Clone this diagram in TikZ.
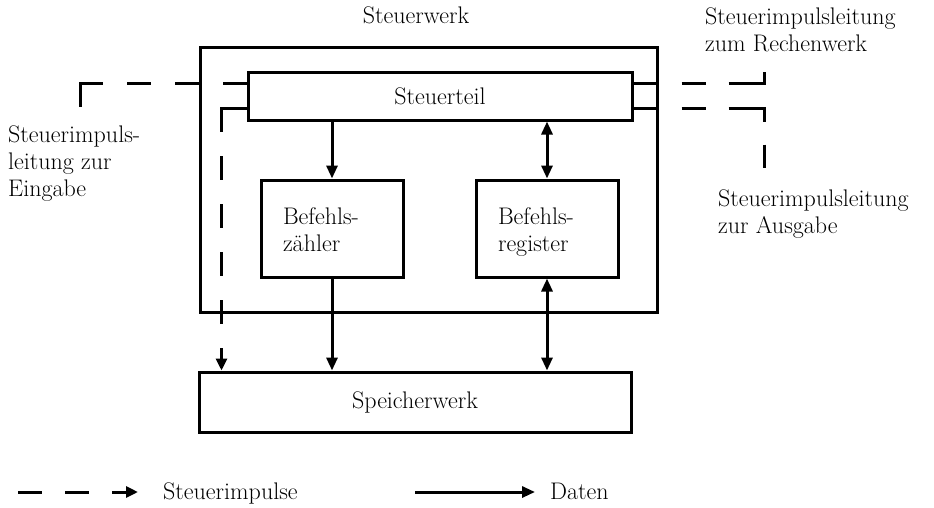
\documentclass[tikz,border=0pt]{standalone}
\usepackage{tikz}
\usetikzlibrary{
  arrows.meta,
  positioning,
  calc
}
\tikzset{
  werkbox/.style={
    draw, line width=3pt, inner sep=0pt, font=\fontsize{24}{27}\selectfont
  },
  regbox/.style={werkbox, minimum width=142pt, minimum height=97pt,
    text width=98pt, inner xsep=22pt, align=left},
  beschr/.style={font=\fontsize{24}{27}\selectfont, inner sep=0pt, align=left},
  daten/.style={line width=3pt, -{Triangle[length=13pt,width=11pt]}},
  datenzw/.style={daten, {Triangle[length=13pt,width=11pt]}-{Triangle[length=13pt,width=11pt]}},
  impuls/.style={line width=3pt},
  impulspfeil/.style={impuls, -{Triangle[length=12pt,width=11pt]}}
}

\begin{document}
\begin{tikzpicture}[x=1pt, y=-1pt]
  \useasboundingbox (0,0) rectangle (934,507);

  % Bloecke
  \node[werkbox, minimum width=457pt, minimum height=265pt] (steuerwerk) at (428.5,179.5) {};
  \node[beschr, anchor=base] (steuerwerklabel) at (416,23) {Steuerwerk};
  \node[werkbox, minimum width=384pt, minimum height=48pt] (steuerteil) at (440,96) {Steuerteil};
  \node[regbox] (zaehler) at (332,228.5) {\rule{0pt}{27pt}Befehls-\\zähler\strut};
  \node[regbox] (register) at (547,228.5) {\rule{0pt}{27pt}Befehls-\\register\strut};
  \node[werkbox, minimum width=432pt, minimum height=60pt] (speicher) at (415,402) {Speicherwerk};

  % Beschriftungen
  \node[beschr, anchor=north west] (eingabe) at (8,126) {Steuerimpuls-\\leitung zur\\Eingabe};
  \node[beschr, anchor=north west] (rechenwerk) at (705,8) {Steuerimpulsleitung\\zum Rechenwerk};
  \node[beschr, anchor=north west] (ausgabe) at (718,190) {Steuerimpulsleitung\\zur Ausgabe};

  \coordinate (einE) at (80,107);
  \coordinate (ausR) at (764,72);
  \coordinate (ausA) at (764,168);

  % Steuerimpulse
  \draw[impuls, dash pattern=on 24pt off 24pt on 24pt off 24pt on 24pt off 24pt on 48pt off 24pt]
    ([yshift=13pt]steuerteil.west) -| (einE);
  \draw[impulspfeil, dash pattern=on 49pt off 24pt on 24pt off 24pt on 24pt off 24pt on 24pt off 24pt on 24pt off 24pt on 30pt off 24pt]
    ([yshift=-12pt]steuerteil.west) -| ($(speicher.north west)+(24,0)$);
  \draw[impuls, dash pattern=on 25pt off 23pt on 24pt off 23pt on 48pt off 23pt]
    ([yshift=13pt]steuerteil.east) -| (ausR);
  \draw[impuls, dash pattern=on 25pt off 23pt on 24pt off 23pt on 49pt off 23pt on 25pt off 23pt]
    ([yshift=-12pt]steuerteil.east) -| (ausA);

  % Daten
  \draw[daten] (zaehler.north |- steuerteil.south) -- (zaehler.north);
  \draw[datenzw] (register.north |- steuerteil.south) -- (register.north);
  \draw[daten] (zaehler.south) -- (zaehler.south |- speicher.north);
  \draw[datenzw] (register.south) -- (register.south |- speicher.north);

  % Legende
  \coordinate (lgA) at (18,492);
  \coordinate (lgB) at (138,492);
  \draw[impulspfeil, dash pattern=on 24pt off 23pt] (lgA) -- (lgB);
  \node[beschr, anchor=base west] (lgimp) at (163,499) {Steuerimpulse};
  \coordinate (lgC) at (415,492);
  \coordinate (lgD) at (535,492);
  \draw[daten] (lgC) -- (lgD);
  \node[beschr, anchor=base west] (lgdat) at (550,499) {Daten};
\end{tikzpicture}
\end{document}
